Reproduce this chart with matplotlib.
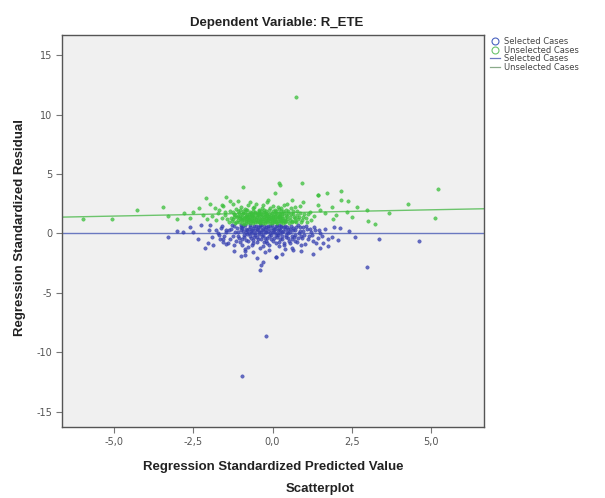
import matplotlib
matplotlib.use("Agg")
import matplotlib.pyplot as plt
from matplotlib.lines import Line2D
import numpy as np

# ---------------- data ----------------
# Unselected cases (green), standardized predicted value vs standardized residual
green_points = [
    (-5.97, 1.25), (-5.06, 1.25), (-4.27, 2.0), (-3.45, 2.25), (-2.8, 1.7), (-2.5, 1.8),
    (-2.2, 1.55), (-2.08, 2.95), (-1.98, 2.5), (-1.82, 2.1), (-1.6, 2.4), (-1.45, 3.1),
    (-1.5, 1.8), (-1.72, 1.7), (-1.35, 2.7), (-0.93, 3.9), (0.07, 3.4), (0.6, 2.8),
    (1.43, 3.25), (1.7, 3.4), (1.43, 2.4), (1.86, 2.25), (2.17, 2.8), (2.33, 1.8),
    (2.65, 2.25), (1.18, 1.8), (1.65, 1.7), (2.0, 1.55), (2.37, 2.7), (2.96, 2.0),
    (2.17, 3.6), (1.42, 3.2), (0.2, 4.2), (0.92, 4.2), (0.23, 4.1),
    (3.0, 1.07), (3.22, 0.82), (3.67, 1.75), (4.27, 2.5), (5.12, 1.3), (5.2, 3.7),
    (0.74, 11.5),
    (-1.28, 1.05), (-1.22, 1.62), (-1.18, 0.88), (-1.15, 2.05), (-1.12, 1.35), (-1.08, 1.9),
    (-1.05, 0.95), (-1.02, 1.48), (-0.98, 2.22), (-0.95, 1.15), (-0.93, 1.72), (-0.9, 0.82),
    (-0.88, 1.38), (-0.85, 1.95), (-0.83, 1.08), (-0.8, 1.55), (-0.78, 2.35), (-0.76, 0.92),
    (-0.73, 1.25), (-0.71, 1.82), (-0.68, 1.02), (-0.66, 1.45), (-0.63, 2.1), (-0.61, 0.86),
    (-0.58, 1.3), (-0.56, 1.68), (-0.53, 1.12), (-0.51, 2.5), (-0.48, 0.95), (-0.46, 1.52),
    (-0.43, 1.88), (-0.41, 1.2), (-0.38, 0.84), (-0.36, 1.62), (-0.33, 2.15), (-0.31, 1.05),
    (-0.28, 1.4), (-0.26, 1.78), (-0.23, 0.9), (-0.21, 1.28), (-0.18, 2.62), (-0.16, 1.58),
    (-0.13, 1.1), (-0.11, 1.95), (-0.08, 0.86), (-0.06, 1.42), (-0.03, 1.72), (-0.01, 1.15),
    (0.02, 2.28), (0.04, 0.96), (0.07, 1.5), (0.09, 1.25), (0.12, 1.85), (0.14, 0.88),
    (0.17, 1.36), (0.19, 2.05), (0.22, 1.08), (0.24, 1.6), (0.27, 0.92), (0.29, 1.3),
    (0.32, 1.9), (0.34, 1.14), (0.37, 2.4), (0.39, 0.98), (0.42, 1.55), (0.45, 1.22),
    (0.48, 1.75), (0.52, 0.9), (0.55, 1.4), (0.58, 2.1), (0.62, 1.08), (0.66, 1.62),
    (0.7, 1.28), (0.74, 0.95), (0.78, 1.85), (0.83, 1.35), (0.88, 2.3), (0.93, 1.12),
    (1.0, 1.65), (1.08, 0.98),
    (-1.0, 1.25), (-0.95, 1.6), (-0.9, 1.1), (-0.85, 1.45), (-0.8, 1.2), (-0.75, 1.65),
    (-0.7, 1.35), (-0.65, 1.15), (-0.6, 1.55), (-0.55, 0.98), (-0.5, 1.35), (-0.45, 1.7),
    (-0.4, 1.05), (-0.35, 1.45), (-0.3, 1.25), (-0.25, 1.6), (-0.2, 1.02), (-0.15, 1.32),
    (-0.1, 1.65), (-0.05, 1.2), (0.0, 1.48), (0.05, 1.05), (0.1, 1.7), (0.15, 1.18),
    (0.2, 1.45), (0.25, 1.28), (0.3, 1.62), (0.35, 1.0), (-1.1, 1.15), (-1.05, 1.75),
    (-0.62, 1.9), (-0.42, 2.0), (-0.22, 1.85), (0.08, 2.0), (0.28, 2.15), (-0.88, 2.05),
    (-1.2, 1.4), (-1.35, 1.85), (-1.42, 1.2), (-1.5, 1.55),
    (-1.38, 0.95), (-1.32, 1.3), (-1.26, 1.78), (-1.24, 1.22), (-1.19, 1.55), (-1.14, 0.92),
    (-1.09, 1.5), (-1.04, 1.32), (-1.01, 2.0), (-0.97, 0.9), (-0.96, 1.4), (-0.92, 1.9),
    (-0.91, 1.28), (-0.86, 1.7), (-0.84, 0.9), (-0.81, 1.35), (-0.79, 2.0), (-0.77, 1.1),
    (-0.74, 1.48), (-0.72, 0.85), (-0.69, 1.75), (-0.67, 1.25), (-0.64, 1.58), (-0.62, 1.05),
    (-0.59, 2.2), (-0.57, 1.4), (-0.54, 1.8), (-0.52, 1.22), (-0.49, 1.58), (-0.47, 1.08),
    (-0.44, 1.3), (-0.42, 1.65), (-0.39, 0.98), (-0.37, 1.9), (-0.34, 1.25), (-0.32, 1.55),
    (-0.29, 0.88), (-0.27, 2.0), (-0.24, 1.45), (-0.22, 1.15), (-0.19, 1.72), (-0.17, 0.95),
    (-0.14, 1.5), (-0.12, 1.3), (-0.09, 2.15), (-0.07, 1.05), (-0.04, 1.58), (-0.02, 0.9),
    (0.01, 1.35), (0.03, 1.85), (0.06, 1.2), (0.08, 1.6), (0.11, 0.95), (0.13, 1.45),
    (0.16, 2.2), (0.18, 1.05), (0.21, 1.75), (0.23, 1.35), (0.26, 1.9), (0.28, 1.12),
    (0.31, 1.45), (0.33, 0.9), (0.36, 1.7), (0.38, 1.3), (0.41, 2.0), (0.44, 1.05),
    (0.47, 1.45), (0.5, 1.9), (0.54, 1.15), (0.57, 1.6), (0.6, 0.95), (0.64, 1.85),
    (0.68, 1.4), (0.72, 1.05), (0.76, 1.55), (0.8, 1.2), (0.85, 1.7), (0.9, 0.92),
    (0.96, 1.4), (1.05, 1.3), (1.12, 1.6), (1.2, 1.1), (1.3, 1.45), (-1.6, 1.3),
    (-1.68, 2.0), (-1.78, 1.1), (-1.9, 1.5), (-2.05, 1.2), (-2.3, 2.1), (-2.6, 1.3),
    (-3.0, 1.2), (-3.3, 1.5), (-1.55, 2.3), (-1.25, 2.45), (-0.7, 2.6), (-0.3, 2.4),
    (0.45, 2.5), (0.7, 2.2), (1.5, 2.0), (1.9, 1.2), (2.5, 1.4), (0.95, 2.6),
    (-0.15, 2.85), (-1.1, 2.7),
]

# Selected cases (blue)
blue_points = [
    (-3.3, -0.28), (-2.83, 0.14), (-2.5, 0.14), (-2.24, 0.73), (-1.98, 0.73), (-1.72, 0.0),
    (-2.13, -1.26), (-2.04, -0.84), (-1.87, -0.97), (-1.45, 0.3), (-1.56, -0.7),
    (-0.87, -1.8), (-0.87, -1.47), (-0.4, -3.06), (-0.3, -2.4), (-0.35, -2.65),
    (-0.24, -1.55), (0.12, -1.96), (0.1, -2.0), (0.65, -1.4), (1.28, -1.7), (1.6, -0.85),
    (1.86, -0.28), (2.12, 0.42), (2.07, -0.55), (1.75, -1.1),
    (3.35, -0.45), (4.6, -0.6), (2.97, -2.8),
    (-0.21, -8.6), (-0.97, -12.0),
    (-1.3, 0.35), (-1.25, -0.2), (-1.2, 0.6), (-1.15, -0.65), (-1.1, 0.1), (-1.05, -0.4),
    (-1.0, 0.5), (-0.97, -0.95), (-0.94, 0.2), (-0.9, -0.15), (-0.87, 0.68), (-0.84, -0.55),
    (-0.8, 0.32), (-0.77, -1.15), (-0.74, 0.05), (-0.7, 0.55), (-0.67, -0.35), (-0.64, 0.25),
    (-0.6, -0.8), (-0.57, 0.62), (-0.54, -0.1), (-0.5, 0.4), (-0.47, -0.5), (-0.44, 0.15),
    (-0.4, -1.25), (-0.37, 0.7), (-0.34, -0.25), (-0.3, 0.38), (-0.27, -0.7), (-0.24, 0.08),
    (-0.2, 0.55), (-0.17, -0.4), (-0.14, 0.22), (-0.1, -0.95), (-0.07, 0.65), (-0.04, -0.15),
    (0.0, 0.45), (0.03, -0.6), (0.06, 0.12), (0.1, 0.58), (0.13, -0.3), (0.16, 0.3),
    (0.2, -1.05), (0.23, 0.0), (0.26, 0.5), (0.3, -0.45), (0.33, 0.2), (0.37, -0.8),
    (0.4, 0.62), (0.44, -0.12), (0.48, 0.35), (0.52, -0.6), (0.56, 0.1), (0.6, -1.2),
    (0.64, 0.48), (0.68, -0.3), (0.72, 0.25), (0.77, -0.75), (0.82, 0.05), (0.87, 0.55),
    (0.92, -0.4), (0.97, 0.2), (1.03, -0.9), (1.08, 0.4), (1.14, -0.2), (1.2, 0.1),
    (1.27, -0.6), (1.34, 0.3), (1.42, -0.35), (1.5, 0.05), (-1.4, -0.8), (-1.48, 0.15),
    (-1.55, -0.45), (-1.62, 0.45), (-1.7, -0.1),
    (-0.95, 0.45), (-0.85, 0.1), (-0.75, 0.4), (-0.65, 0.0), (-0.55, 0.3), (-0.45, 0.55),
    (-0.35, 0.1), (-0.25, 0.35), (-0.15, 0.6), (-0.05, 0.25), (0.05, 0.4), (0.15, 0.05),
    (0.25, 0.3), (0.35, 0.55), (0.45, 0.15), (0.55, 0.4), (-0.9, -0.3), (-0.7, -0.2),
    (-0.5, -0.3), (-0.3, -0.1), (-0.1, -0.25), (0.1, -0.1), (0.3, -0.2), (0.5, -0.35),
    (0.7, -0.1), (-0.6, -0.55), (-0.2, -0.6), (0.2, -0.7), (0.6, -0.5), (0.9, -0.2),
    (-1.0, 0.7), (-0.4, 0.7), (0.2, 0.72), (0.8, 0.7),
    (-1.78, 0.3), (-1.65, -0.5), (-1.58, 0.6), (-1.52, -0.2), (-1.45, -0.9), (-1.38, 0.25),
    (-1.33, -0.45), (-1.28, 0.7), (-1.22, -1.0), (-1.18, 0.15), (-1.13, 0.45), (-1.08, -0.2),
    (-1.03, -0.7), (-0.99, 0.25), (-0.96, -0.45), (-0.92, 0.6), (-0.88, -1.3), (-0.83, 0.4),
    (-0.79, -0.05), (-0.76, -0.6), (-0.72, 0.7), (-0.69, 0.2), (-0.66, -0.95), (-0.62, 0.42),
    (-0.59, -0.3), (-0.56, 0.05), (-0.52, 0.65), (-0.49, -0.75), (-0.46, 0.3), (-0.43, -0.05),
    (-0.39, 0.5), (-0.36, -0.5), (-0.33, 0.28), (-0.29, -1.05), (-0.26, 0.6), (-0.23, -0.35),
    (-0.19, 0.15), (-0.16, -0.8), (-0.13, 0.45), (-0.09, 0.0), (-0.06, -0.5), (-0.03, 0.7),
    (0.01, 0.1), (0.04, -0.35), (0.08, 0.35), (0.11, -0.8), (0.14, 0.6), (0.18, -0.15),
    (0.21, 0.4), (0.24, -0.5), (0.28, 0.65), (0.31, 0.1), (0.35, -0.95), (0.38, 0.35),
    (0.42, -0.3), (0.46, 0.5), (0.5, 0.0), (0.54, -0.8), (0.58, 0.65), (0.62, -0.2),
    (0.66, 0.3), (0.7, -0.65), (0.75, 0.5), (0.8, -0.35), (0.85, 0.2), (0.9, -0.95),
    (0.95, 0.5), (1.0, -0.1), (1.06, 0.65), (1.12, -0.5), (1.18, 0.35), (1.24, -0.1),
    (1.3, 0.55), (1.38, -0.8), (1.46, 0.3), (1.55, -0.25), (1.65, 0.4), (1.75, -0.5),
    (-1.9, -0.3), (-2.0, 0.3), (-2.35, -0.5), (-2.6, 0.5), (-3.0, 0.2), (-1.2, -1.5),
    (-0.6, -1.6), (-0.1, -1.4), (0.4, -1.3), (0.9, -1.5), (1.5, -1.2), (-1.0, -1.9),
    (0.3, -1.75), (-0.5, -2.1), (2.4, 0.2), (2.6, -0.3), (1.95, 0.55),
]

# Fit lines (intercept, slope)
selected_fit = (0.03, 0.0)
unselected_fit = (1.72, 0.053)

x_ticks = [-5.0, -2.5, 0.0, 2.5, 5.0]
x_tick_labels = ["-5,0", "-2,5", "0,0", "2,5", "5,0"]
y_ticks = [15, 10, 5, 0, -5, -10, -15]
y_tick_labels = ["15", "10", "5", "0", "-5", "-10", "-15"]

legend_labels = ["Selected Cases", "Unselected Cases", "Selected Cases", "Unselected Cases"]

# ---------------- figure ----------------
W, H = 605, 498
fig = plt.figure(figsize=(W / 100, H / 100), dpi=100)
fig.patch.set_facecolor("white")

ax = fig.add_axes([62 / W, 1 - 427 / H, (484 - 62) / W, (427 - 35) / H])
ax.set_facecolor("#f0f0f0")

BLUE = "#3640b0"
GREEN = "#3cc03c"

gx, gy = np.array(green_points).T
bx, by = np.array(blue_points).T

ax.scatter(bx, by, s=6, facecolors=BLUE, edgecolors=BLUE, linewidths=0.4, alpha=0.75, zorder=3)
ax.scatter(gx, gy, s=6, facecolors=GREEN, edgecolors=GREEN, linewidths=0.4, alpha=0.75, zorder=3)

ax.axline((0, selected_fit[0]), slope=selected_fit[1], color="#6a78c0", lw=1.0, zorder=2)
ax.axline((0, unselected_fit[0]), slope=unselected_fit[1], color="#6cc46c", lw=1.0, zorder=2)

ax.set_xlim(-6.63, 6.66)
ax.set_ylim(-16.3, 16.7)

ax.set_xticks(x_ticks)
ax.set_xticklabels(x_tick_labels)
ax.set_yticks(y_ticks)
ax.set_yticklabels(y_tick_labels)
ax.tick_params(axis="both", direction="out", length=4, width=0.8, color="#777777",
               labelsize=7, labelcolor="#555555", pad=3)

for sp in ax.spines.values():
    sp.set_color("#555555")
    sp.set_linewidth(1.0)

lab_font = dict(family="Liberation Sans", fontsize=9.5, fontweight="bold", color="#222222")
fig.text(277 / W, 1 - 23 / H, "Dependent Variable: R_ETE", ha="center", va="center", **lab_font)
fig.text(273 / W, 1 - 467 / H, "Regression Standardized Predicted Value", ha="center", va="center", **lab_font)
fig.text(320 / W, 1 - 489 / H, "Scatterplot", ha="center", va="center", **lab_font)
fig.text(20 / W, 1 - 228 / H, "Regression Standardized Residual", ha="center", va="center",
         rotation=90, **lab_font)

# ---------------- legend ----------------
handles = [
    Line2D([], [], marker="o", ls="none", mfc="none", mec="#4a63c0", ms=5, mew=0.8),
    Line2D([], [], marker="o", ls="none", mfc="none", mec="#6cc46c", ms=5, mew=0.8),
    Line2D([], [], color="#6a78c0", lw=0.9),
    Line2D([], [], color="#8aaa8a", lw=0.9),
]
leg = fig.legend(handles, legend_labels, loc="upper left", bbox_to_anchor=(490 / W, 1 - 37 / H),
                 frameon=False, fontsize=6, handlelength=1.2, handletextpad=0.5,
                 labelspacing=-0.05, borderpad=0, borderaxespad=0)
for t in leg.get_texts():
    t.set_color("#444444")

fig.savefig("out.png", dpi=100, facecolor="white")
